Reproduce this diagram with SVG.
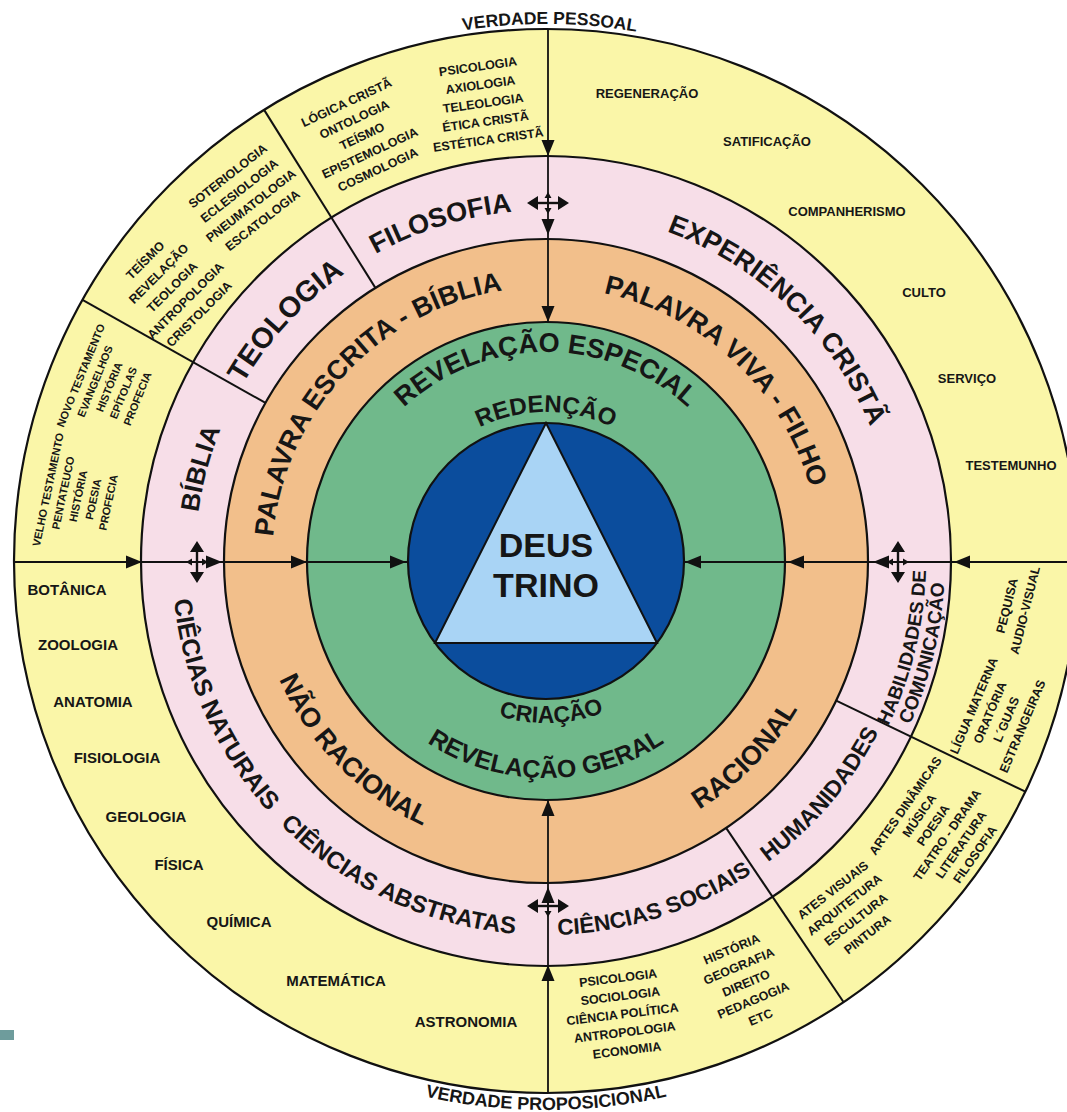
<svg xmlns="http://www.w3.org/2000/svg" xmlns:xlink="http://www.w3.org/1999/xlink" width="1067" height="1112" viewBox="0 0 1067 1112">
<defs>
<style>
.ring{stroke:#111;stroke-width:2.2}
.t{font-family:"Liberation Sans",Arial,sans-serif;font-weight:bold;fill:#161616}
.big{font-size:27px}
.xs{font-size:11px}
.sm{font-size:12.5px}
.md{font-size:13px}
.lg{font-size:15px}
.div{stroke:#111;stroke-width:2;fill:none}
.con{stroke:#111;stroke-width:1.8;fill:none}
.ah{fill:#111}
</style>
<path id="top149" d="M397,561 A149,149 0 0 1 695,561"/>
<path id="top209" d="M337,561 A209,209 0 0 1 755,561"/>
<path id="top274" d="M272,561 A274,274 0 0 1 820,561"/>
<path id="top351" d="M195,561 A351,351 0 0 1 897,561"/>
<path id="top537" d="M9,561 A537,537 0 0 1 1083,561"/>
<path id="bot162" d="M384,561 A162,162 0 0 0 708,561"/>
<path id="bot217" d="M329,561 A217,217 0 0 0 763,561"/>
<path id="bot292" d="M254,561 A292,292 0 0 0 838,561"/>
<path id="bot374" d="M172,561 A374,374 0 0 0 920,561"/>
<path id="bot380" d="M166,561 A380,380 0 0 0 926,561"/>
<path id="bot399" d="M147,561 A399,399 0 0 0 945,561"/>
<path id="bot549" d="M-3,561 A549,549 0 0 0 1095,561"/>
<path id="ah" d="M0,0 L-16,-6.5 L-16,6.5 Z"/>
<g id="cross">
<line x1="-14" y1="0" x2="14" y2="0" stroke="#111" stroke-width="2.4"/>
<path d="M-21,0 L-10,-7 L-10,7 Z M21,0 L10,-7 L10,7 Z" fill="#111"/>
<line x1="0" y1="-8" x2="0" y2="8" stroke="#111" stroke-width="1.6"/>
<path d="M0,-11 L-3.5,-5 L3.5,-5 Z M0,11 L-3.5,5 L3.5,5 Z" fill="#111"/>
</g>
</defs>
<rect width="1067" height="1112" fill="#ffffff"/>

<g id="rings">
<circle class="ring" cx="546" cy="561" r="532" fill="#FAF6A8"/>
<circle class="ring" cx="546" cy="561" r="405" fill="#F7DEE8"/>
<circle class="ring" cx="546" cy="561" r="322" fill="#F2BF8B"/>
<circle class="ring" cx="546" cy="561" r="239" fill="#70B98B"/>
<circle class="ring" cx="546" cy="561" r="138" fill="#0B4D9D"/>
</g>

<g id="dividers">
<line class="div" x1="375.4" y1="287.9" x2="264.1" y2="109.9"/>
<line class="div" x1="265.5" y1="402.9" x2="82.5" y2="299.8"/>
<line class="div" x1="836.2" y1="700.7" x2="1025.4" y2="791.7"/>
<line class="div" x1="726.1" y1="827.9" x2="843.5" y2="1002"/>
</g>

<g id="deus-trino">
<polygon points="546,423 435,643 657,643" fill="#A9D4F5" stroke="#111" stroke-width="2"/>
<text class="t" x="546" y="557" font-size="34" text-anchor="middle">DEUS</text>
<text class="t" x="546" y="597" font-size="34" text-anchor="middle">TRINO</text>
</g>

<g id="green-ring">
<text class="t" font-size="24" text-anchor="middle"><textPath href="#top149" startOffset="50%">REDENÇÃO</textPath></text>
<text class="t" font-size="27" text-anchor="middle"><textPath href="#top209" startOffset="50%">REVELAÇÃO ESPECIAL</textPath></text>
<text class="t" font-size="23" text-anchor="middle" transform="rotate(-2 546 561)"><textPath href="#bot162" startOffset="50%">CRIAÇÃO</textPath></text>
<text class="t" font-size="25" text-anchor="middle"><textPath href="#bot217" startOffset="50%">REVELAÇÃO GERAL</textPath></text>
</g>

<g id="orange-ring">
<text class="t big" text-anchor="middle" transform="rotate(-47 546 561)"><textPath href="#top274" startOffset="50%">PALAVRA ESCRITA - BÍBLIA</textPath></text>
<text class="t big" text-anchor="middle" transform="rotate(43.3 546 561)"><textPath href="#top274" startOffset="50%">PALAVRA VIVA - FILHO</textPath></text>
<text class="t big" text-anchor="middle" transform="rotate(45.5 546 561)"><textPath href="#bot292" startOffset="50%">NÃO RACIONAL</textPath></text>
<text class="t big" text-anchor="middle" transform="rotate(-45.6 546 561)"><textPath href="#bot292" startOffset="50%">RACIONAL</textPath></text>
</g>

<g id="pink-ring">
<text class="t big" text-anchor="middle" transform="rotate(-17.3 546 561)"><textPath href="#top351" startOffset="50%">FILOSOFIA</textPath></text>
<text class="t" font-size="29" text-anchor="middle" transform="rotate(-47.3 546 561)"><textPath href="#top351" startOffset="50%">TEOLOGIA</textPath></text>
<text class="t" font-size="26" text-anchor="middle" transform="rotate(-75 546 561)"><textPath href="#top351" startOffset="50%">BÍBLIA</textPath></text>
<text class="t big" text-anchor="middle" transform="rotate(43.8 546 561)"><textPath href="#top351" startOffset="50%">EXPERIÊNCIA CRISTÃ</textPath></text>
<text class="t" font-size="25" text-anchor="middle" transform="rotate(66 546 561)"><textPath href="#bot374" startOffset="50%">CIÊCIAS NATURAIS</textPath></text>
<text class="t" font-size="24" text-anchor="middle" transform="rotate(25 546 561)"><textPath href="#bot374" startOffset="50%">CIÊNCIAS ABSTRATAS</textPath></text>
<text class="t" font-size="22.5" text-anchor="middle" transform="rotate(-17.6 546 561)"><textPath href="#bot374" startOffset="50%">CIÊNCIAS SOCIAIS</textPath></text>
<text class="t" font-size="23" text-anchor="middle" transform="rotate(-49.6 546 561)"><textPath href="#bot374" startOffset="50%">HUMANIDADES</textPath></text>
<text class="t" font-size="19" text-anchor="middle" transform="rotate(-76.4 546 561)"><textPath href="#bot380" startOffset="50%">HABILIDADES DE</textPath></text>
<text class="t" font-size="19" text-anchor="middle" transform="rotate(-76.3 546 561)"><textPath href="#bot399" startOffset="50%">COMUNICAÇÃO</textPath></text>
</g>

<g id="outer-ring">
<text class="t" font-size="17.5" text-anchor="middle" transform="rotate(0.4 546 561)"><textPath href="#top537" startOffset="50%">VERDADE PESSOAL</textPath></text>
<text class="t" font-size="18" text-anchor="middle"><textPath href="#bot549" startOffset="50%">VERDADE PROPOSICIONAL</textPath></text>

<text class="t sm" text-anchor="middle" transform="translate(362,136) rotate(-25)"><tspan x="0" y="-32.5">LÓGICA CRISTÃ</tspan><tspan x="0" dy="18.5">ONTOLOGIA</tspan><tspan x="0" dy="18.5">TEÍSMO</tspan><tspan x="0" dy="18.5">EPISTEMOLOGIA</tspan><tspan x="0" dy="18.5">COSMOLOGIA</tspan></text>
<text class="t sm" text-anchor="middle" transform="translate(483,103) rotate(-8)"><tspan x="0" y="-32.5">PSICOLOGIA</tspan><tspan x="0" dy="18.5">AXIOLOGIA</tspan><tspan x="0" dy="18.5">TELEOLOGIA</tspan><tspan x="0" dy="18.5">ÉTICA CRISTÃ</tspan><tspan x="0" dy="18.5">ESTÉTICA CRISTÃ</tspan></text>

<text class="t sm" text-anchor="middle" transform="translate(245,198) rotate(-38)"><tspan x="0" y="-23.7">SOTERIOLOGIA</tspan><tspan x="0" dy="18.8">ECLESIOLOGIA</tspan><tspan x="0" dy="18.8">PNEUMATOLOGIA</tspan><tspan x="0" dy="18.8">ESCATOLOGIA</tspan></text>
<text class="t sm" text-anchor="middle" transform="translate(172,287) rotate(-45)"><tspan x="0" y="-33.5">TEÍSMO</tspan><tspan x="0" dy="19">REVELAÇÃO</tspan><tspan x="0" dy="19">TEOLOGIA</tspan><tspan x="0" dy="19">ANTROPOLOGIA</tspan><tspan x="0" dy="19">CRISTOLOGIA</tspan></text>

<text class="t xs" text-anchor="middle" transform="translate(109,387) rotate(-67.7)"><tspan x="0" y="-26.6">NOVO TESTAMENTO</tspan><tspan x="0" dy="15.3">EVANGELHOS</tspan><tspan x="0" dy="15.3">HISTÓRIA</tspan><tspan x="0" dy="15.3">EPÍTOLAS</tspan><tspan x="0" dy="15.3">PROFECIA</tspan></text>
<text class="t xs" text-anchor="middle" transform="translate(78,496) rotate(-78)"><tspan x="0" y="-26.8">VELHO TESTAMENTO</tspan><tspan x="0" dy="15.4">PENTATEUCO</tspan><tspan x="0" dy="15.4">HISTÓRIA</tspan><tspan x="0" dy="15.4">POESIA</tspan><tspan x="0" dy="15.4">PROFECIA</tspan></text>

<text class="t md" text-anchor="middle" x="647" y="98">REGENERAÇÃO</text>
<text class="t md" text-anchor="middle" x="767" y="146">SATIFICAÇÃO</text>
<text class="t md" text-anchor="middle" x="847" y="216">COMPANHERISMO</text>
<text class="t md" text-anchor="middle" x="924" y="297">CULTO</text>
<text class="t md" text-anchor="middle" x="967" y="383">SERVIÇO</text>
<text class="t md" text-anchor="middle" x="1011" y="470">TESTEMUNHO</text>

<text class="t sm" text-anchor="middle" transform="translate(1016,608) rotate(-76)"><tspan x="0" y="-5">PEQUISA</tspan><tspan x="0" dy="18.6">AUDIO-VISUAL</tspan></text>
<text class="t sm" text-anchor="middle" transform="translate(998,716) rotate(-67)"><tspan x="0" y="-22">LÍGUA MATERNA</tspan><tspan x="0" dy="17.6">ORATÓRIA</tspan><tspan x="0" dy="17.6">L´GUAS</tspan><tspan x="0" dy="17.6">ESTRANGEIRAS</tspan></text>

<text class="t sm" text-anchor="middle" transform="translate(850,912) rotate(-38)"><tspan x="0" y="-23.5">ATES VISUAIS</tspan><tspan x="0" dy="18.7">ARQUITETURA</tspan><tspan x="0" dy="18.7">ESCULTURA</tspan><tspan x="0" dy="18.7">PINTURA</tspan></text>
<text class="t sm" text-anchor="middle" transform="translate(940,830) rotate(-55)"><tspan x="0" y="-38">ARTES DINÂMICAS</tspan><tspan x="0" dy="17">MÚSICA</tspan><tspan x="0" dy="17">POESIA</tspan><tspan x="0" dy="17">TEATRO - DRAMA</tspan><tspan x="0" dy="17">LITERATURA</tspan><tspan x="0" dy="17">FILOSOFIA</tspan></text>

<text class="t sm" text-anchor="middle" transform="translate(622.5,1014) rotate(-7)"><tspan x="0" y="-32">PSICOLOGIA</tspan><tspan x="0" dy="18.2">SOCIOLOGIA</tspan><tspan x="0" dy="18.2">CIÊNCIA POLÍTICA</tspan><tspan x="0" dy="18.2">ANTROPOLOGIA</tspan><tspan x="0" dy="18.2">ECONOMIA</tspan></text>
<text class="t sm" text-anchor="middle" transform="translate(746,983) rotate(-23)"><tspan x="0" y="-32.5">HISTÓRIA</tspan><tspan x="0" dy="18.5">GEOGRAFIA</tspan><tspan x="0" dy="18.5">DIREITO</tspan><tspan x="0" dy="18.5">PEDAGOGIA</tspan><tspan x="0" dy="18.5">ETC</tspan></text>

<text class="t lg" text-anchor="middle" x="67" y="595">BOTÂNICA</text>
<text class="t lg" text-anchor="middle" x="78" y="650">ZOOLOGIA</text>
<text class="t lg" text-anchor="middle" x="93" y="707">ANATOMIA</text>
<text class="t lg" text-anchor="middle" x="117" y="763">FISIOLOGIA</text>
<text class="t lg" text-anchor="middle" x="146" y="822">GEOLOGIA</text>
<text class="t lg" text-anchor="middle" x="179" y="870">FÍSICA</text>
<text class="t lg" text-anchor="middle" x="239" y="927">QUÍMICA</text>
<text class="t lg" text-anchor="middle" x="336" y="986">MATEMÁTICA</text>
<text class="t lg" text-anchor="middle" x="466" y="1027">ASTRONOMIA</text>
</g>

<g id="connectors">
<line class="con" x1="14" y1="562" x2="407" y2="562"/>
<line class="con" x1="683" y1="562" x2="1067" y2="562"/>
<line class="con" x1="548" y1="29" x2="548" y2="322"/>
<line class="con" x1="548" y1="800" x2="548" y2="1093"/>
<use href="#ah" class="ah" transform="translate(142,562)"/>
<use href="#ah" class="ah" transform="translate(222,562)"/>
<use href="#ah" class="ah" transform="translate(307,562)"/>
<use href="#ah" class="ah" transform="translate(406,562)"/>
<use href="#ah" class="ah" transform="translate(954,562) rotate(180)"/>
<use href="#ah" class="ah" transform="translate(873,562) rotate(180)"/>
<use href="#ah" class="ah" transform="translate(788,562) rotate(180)"/>
<use href="#ah" class="ah" transform="translate(685,562) rotate(180)"/>
<use href="#ah" class="ah" transform="translate(548,156) rotate(90)"/>
<use href="#ah" class="ah" transform="translate(548,235) rotate(90)"/>
<use href="#ah" class="ah" transform="translate(548,322) rotate(90)"/>
<use href="#ah" class="ah" transform="translate(548,965) rotate(-90)"/>
<use href="#ah" class="ah" transform="translate(548,887) rotate(-90)"/>
<use href="#ah" class="ah" transform="translate(548,800) rotate(-90)"/>
<use href="#cross" transform="translate(548,203)"/>
<use href="#cross" transform="translate(548,906)"/>
<use href="#cross" transform="translate(197,562) rotate(90)"/>
<use href="#cross" transform="translate(898,562) rotate(90)"/>
</g>

<rect x="0" y="1030" width="14" height="10" fill="#6E9C9C"/>
</svg>
